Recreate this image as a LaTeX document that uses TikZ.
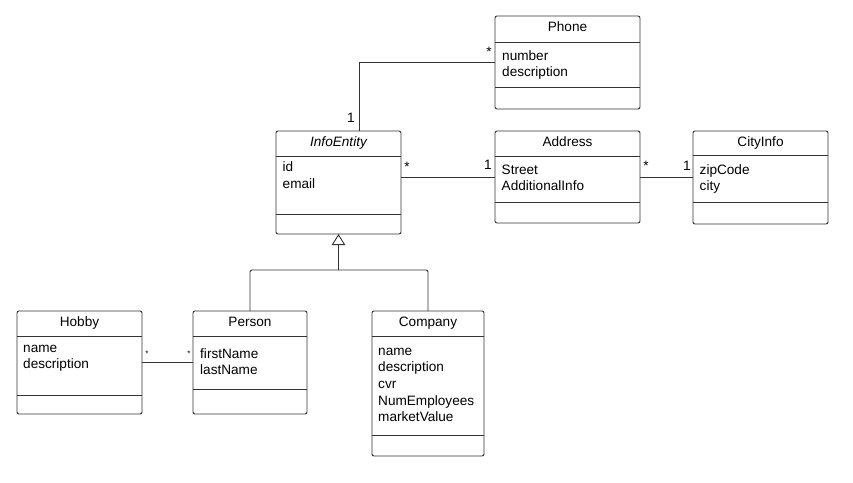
\documentclass[tikz,border=0pt]{standalone}
\usepackage{fontspec}
\setmainfont{Liberation Sans}
\usetikzlibrary{arrows.meta}
\colorlet{UmlLine}{black!80}
\tikzset{
    class box/.style={draw=UmlLine, line width=0.9pt, rounded corners=2pt,
        anchor=north west, inner sep=0pt, outer sep=0pt},
    class name/.style={anchor=base, inner sep=0pt,
        font=\fontsize{13.6}{16.7}\selectfont},
    class attrs/.style={anchor=base west, align=left, inner sep=0pt,
        font=\fontsize{13.6}{16.7}\selectfont},
    mult/.style={anchor=base, inner sep=0pt,
        font=\fontsize{13.6}{16.7}\selectfont},
    small mult/.style={mult, font=\fontsize{8}{9}\selectfont},
    assoc/.style={draw=UmlLine, line width=0.9pt},
}

\begin{document}
\begin{tikzpicture}[x=1pt, y=-1pt]

    \useasboundingbox (0,0) rectangle (853,482);

    \node[class box, minimum width=145pt, minimum height=93pt] (phone) at (495,16) {};
    \node[class box, minimum width=125pt, minimum height=103pt] (info) at (276,131) {};
    \node[class box, minimum width=145pt, minimum height=92pt] (address) at (495,131) {};
    \node[class box, minimum width=135pt, minimum height=93pt] (city) at (693,131) {};
    \node[class box, minimum width=125pt, minimum height=103pt] (hobby) at (17,311) {};
    \node[class box, minimum width=114pt, minimum height=103pt] (person) at (193,311) {};
    \node[class box, minimum width=112pt, minimum height=145pt] (company) at (372,311) {};

    % compartments
    \foreach \c/\a/\b in {phone/26/71, info/25/83, address/25/71, city/24/71,
                          hobby/25/84, person/25/78, company/25/124} {
        \draw[assoc] ([yshift=-\a pt]\c.north west) -- ([yshift=-\a pt]\c.north east);
        \draw[assoc] ([yshift=-\b pt]\c.north west) -- ([yshift=-\b pt]\c.north east);
    }

    \node[class name] (phone title) at ([yshift=-15.5pt]phone.north) {Phone};
    \node[class name] (info title) at ([yshift=-15.5pt]info.north) {\itshape InfoEntity};
    \node[class name] (address title) at ([yshift=-15.5pt]address.north) {Address};
    \node[class name] (city title) at ([yshift=-15.5pt]city.north) {CityInfo};
    \node[class name] (hobby title) at ([yshift=-15.5pt]hobby.north) {Hobby};
    \node[class name] (person title) at ([yshift=-15.5pt]person.north) {Person};
    \node[class name] (company title) at ([yshift=-15.5pt]company.north) {Company};

    % attributes (base = last line)
    \node[class attrs] (phone attrs) at ([xshift=7pt,yshift=-60.7pt]phone.north west) {number\\description};
    \node[class attrs] (info attrs) at ([xshift=6.5pt,yshift=-57.4pt]info.north west) {id\\email};
    \node[class attrs] (address attrs) at ([xshift=6.5pt,yshift=-59.7pt]address.north west) {Street\\AdditionalInfo};
    \node[class attrs] (city attrs) at ([xshift=6.5pt,yshift=-59.7pt]city.north west) {zipCode\\city};
    \node[class attrs] (hobby attrs) at ([xshift=6pt,yshift=-57.7pt]hobby.north west) {name\\description};
    \node[class attrs] (person attrs) at ([xshift=7pt,yshift=-63.7pt]person.north west) {firstName\\lastName};
    \node[class attrs] (company attrs) at ([xshift=6pt,yshift=-110.8pt]company.north west)
        {name\\description\\cvr\\NumEmployees\\marketValue};

    % associations
    \draw[assoc] ([xshift=20.5pt]info.north) |- (phone.west);
    \draw[assoc] (info.east |- address.west) -- (address.west);
    \draw[assoc] (address.east) -- (address.east -| city.west);
    \draw[assoc] (hobby.east) -- (person.west);

    % generalization
    \coordinate (gen) at ([yshift=-36pt]info.south);
    \draw[assoc, rounded corners=2pt] (person.north) |- (gen) -| (company.north);
    \draw[assoc, -{Triangle[open, length=11pt, width=13.5pt]}] (gen) -- (info.south);

    \node[mult] (info phone 1) at (351,122) {1};
    \node[mult] (info phone n) at (489,56) {*};
    \node[mult] (info address n) at (407,171) {*};
    \node[mult] (info address 1) at (488,169.5) {1};
    \node[mult] (address city n) at (646,170.5) {*};
    \node[mult] (address city 1) at (687,170.5) {1};
    \node[small mult] (hobby person n) at (147,356.5) {*};
    \node[small mult] (person hobby n) at (189,356.5) {*};

\end{tikzpicture}
\end{document}
